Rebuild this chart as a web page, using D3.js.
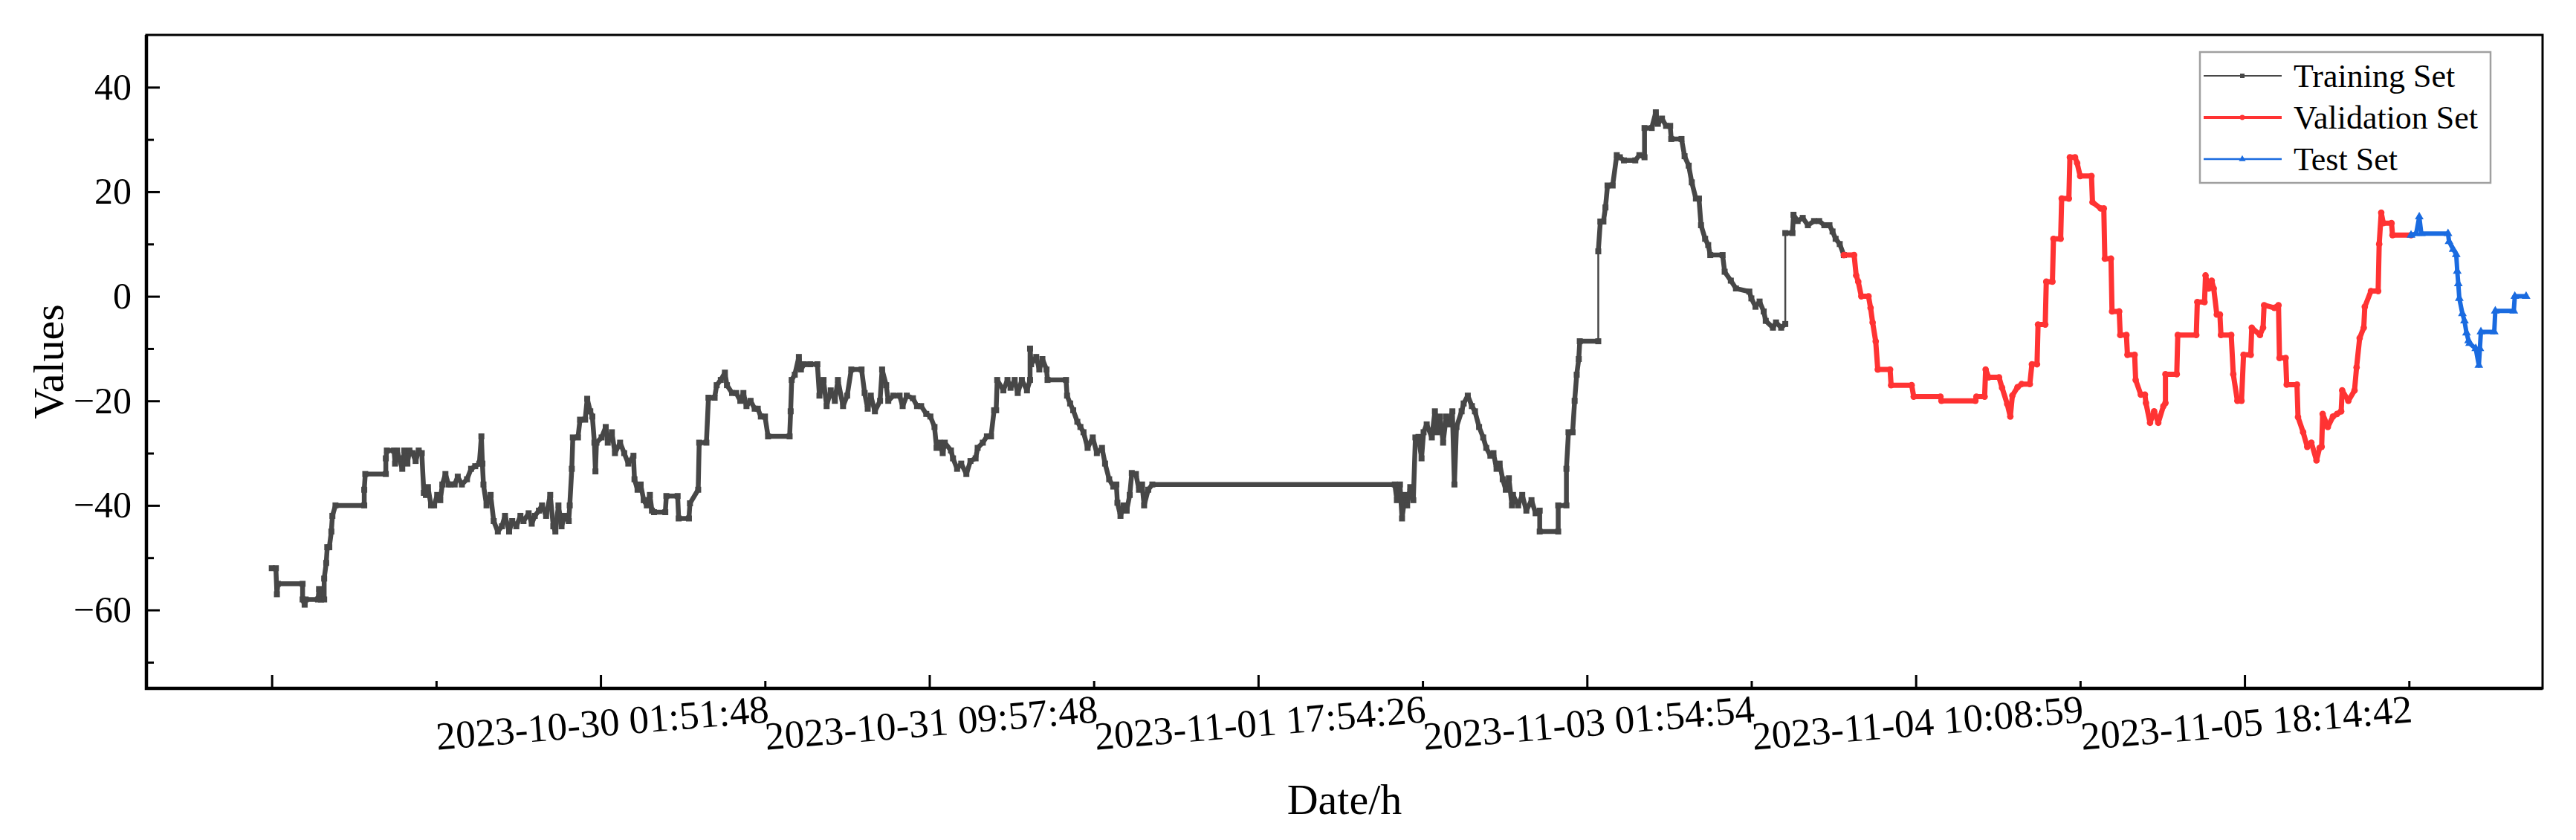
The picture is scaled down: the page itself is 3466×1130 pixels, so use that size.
<!DOCTYPE html>
<html>
<head>
<meta charset="utf-8">
<script src="https://cdn.jsdelivr.net/npm/d3@7"></script>
<style>
  body { margin: 0; background: #fff; }
  svg { display: block; }
  text { font-family: "Liberation Serif", "Times New Roman", serif; fill: #000; }
</style>
</head>
<body>
<script>
var width = 3466
var height = 1130
var L = 197, R = 3421, T = 47, B = 926

// x in hours from the first sample, y = value
var trainSet = [
  [0,-52],[0.4,-52],[0.5,-57],[0.6,-55],[3.0,-55],[3.0,-58],[3.2,-59],[3.3,-58],[4.5,-58],[4.6,-56],[4.8,-58],[5.1,-58],
  [5.1,-54],[5.3,-51],[5.4,-48],[5.6,-48],[5.8,-45],[5.9,-42],[6.2,-40],[9.0,-40],
  [9.0,-37],[9.1,-34],[11.1,-34],
  [11.1,-31],[11.2,-29.5],[11.9,-29.5],[12.0,-32],[12.2,-29.5],[12.4,-31],[12.7,-33],[12.9,-29.5],[13.2,-32],[13.4,-29.5],[13.7,-30],[14.0,-31.5],[14.3,-29.5],[14.6,-30],
  [14.8,-37.6],[15.0,-38],[15.2,-36.5],[15.5,-40],[15.8,-40],[16.1,-38],[16.4,-39],[16.6,-36],[16.9,-34],[17.2,-36],[17.4,-36],
  [17.8,-36],[18.1,-34.5],[18.5,-36],[19.0,-35],[19.4,-33],[19.8,-32.5],[20.2,-32],[20.4,-26.8],[20.5,-32],
  [20.6,-36],[20.9,-40],[21.3,-38],[21.6,-43],[22.0,-45],[22.4,-44],[22.7,-42],[23.1,-45],[23.4,-43],[23.8,-44],[24.2,-42],[24.5,-43],
  [25.0,-41.5],[25.3,-43.5],[25.6,-42],[26.0,-41],[26.3,-40],[26.7,-42],[27.1,-38],[27.4,-44],[27.6,-45],[27.9,-40],[28.2,-44],[28.5,-42],[28.9,-43],
  [29.0,-40],[29.2,-33],[29.3,-27],[29.8,-27],[30.0,-23.6],[30.5,-23.6],[30.7,-19.6],[31.0,-22],
  [31.2,-23],[31.4,-28],[31.5,-33.5],[31.6,-28],[32.1,-27],[32.5,-25],[32.7,-28],[33.1,-26],[33.4,-30],[33.9,-28],[34.3,-30],[34.7,-32],[35.2,-30.5],
  [35.3,-35],[35.6,-37],[35.9,-36],[36.2,-39],[36.5,-40],[36.8,-38],[37.0,-41],
  [37.2,-41.3],[38.3,-41.3],[38.4,-38.2],[39.5,-38.2],[39.6,-42.5],[40.6,-42.5],
  [40.7,-39.6],[41.5,-37],[41.6,-28],[42.3,-28],[42.5,-19.4],[43.1,-19.4],[43.3,-17],[43.7,-16],[44.1,-14.6],[44.3,-17],[44.8,-18.5],[45.2,-18.5],[45.6,-20],[45.9,-18.5],[46.2,-21],[46.6,-20],[47.0,-21.5],[47.3,-21.5],[47.6,-23],[48.0,-23],
  [48.3,-26.8],[50.4,-26.8],
  [50.5,-22],[50.6,-16],[50.9,-15],[51.3,-11.6],[51.5,-14],[51.8,-13],[52.4,-13],[53.1,-13],
  [53.3,-19],[53.7,-16],[54.0,-21],[54.4,-18],[54.8,-20],[55.1,-16],[55.6,-21],[56.0,-19],[56.4,-14],[57.4,-14],[57.7,-18.5],[58.0,-21.5],[58.3,-19],[58.7,-22],[59.2,-20],[59.4,-14],[59.8,-17],[60.0,-20],[60.5,-19],[61.1,-19],[61.4,-21],[61.8,-19],[62.4,-19.5],[62.8,-21],[63.2,-21],[63.7,-22.5],[64.1,-23],
  [64.5,-25],[64.7,-29],[65.0,-28],[65.3,-30],[65.5,-28],[66.1,-29.5],
  [66.3,-31],[66.7,-33],[67.1,-32],[67.6,-34],[68.0,-31.5],[68.5,-31],
  [68.7,-29],[69.2,-28],[69.6,-26.8],[70.0,-26.8],[70.3,-21.8],[70.5,-21.8],[70.6,-16],
  [71.2,-18],[71.6,-16],[71.9,-17.5],[72.3,-16],[72.6,-18.5],[73.0,-16],[73.5,-18],[73.8,-16],
  [73.8,-10],[73.9,-13],[74.4,-11.6],[74.7,-14],[75.0,-12],[75.4,-14],[75.5,-16],[77.3,-16],
  [77.4,-19],[77.7,-20.5],[78.0,-21.8],[78.4,-24],[78.7,-25],
  [79.0,-26],[79.4,-29],[79.9,-27],[80.3,-30],[80.8,-29],
  [81.1,-32],[81.5,-35],[81.9,-36.4],[82.2,-36],
  [82.3,-39.5],[82.6,-42],[82.9,-40],[83.2,-41],[83.5,-38],[83.7,-33.8],[84.1,-34],[84.4,-37],[84.7,-36],[84.9,-40],[85.3,-37],[85.7,-36],
  [109.3,-36],
  [109.5,-39],[109.8,-36],[110.0,-42.5],[110.3,-38],[110.5,-40],[110.8,-36.5],[111.1,-39],
  [111.3,-27],[111.6,-26.9],[111.9,-31],[112.1,-26],[112.4,-24.5],[112.9,-27],[113.2,-22],[113.4,-26],[113.7,-23],[114.0,-28],[114.3,-23],[114.6,-24.5],[114.9,-22],[115.1,-36],[115.3,-25],
  [115.8,-22],[116.0,-20.5],[116.4,-19],[116.8,-21],[117.1,-22],[117.5,-25],
  [117.9,-27],[118.2,-29],[118.6,-30.5],[118.9,-30],[119.2,-33],[119.5,-32],
  [119.8,-35],[120.1,-37],[120.4,-34.8],[120.7,-40],
  [120.8,-38],[121.3,-40],[121.7,-38],[122.1,-41],[122.6,-39],[123.0,-41.5],[123.4,-41],
  [123.4,-45],[125.2,-45],[125.2,-40],[126.0,-40],
  [126.0,-33],[126.2,-26],[126.6,-26],[126.8,-20],[127.0,-15],[127.2,-12],[127.3,-8.6],[129.1,-8.6],
  [129.1,8.6],[129.3,14.3],[129.6,14.3],[129.8,17],[130.0,21.2],[130.5,21.2],[130.9,27],[131.2,26.6],[131.6,26],[132.7,26],[133.1,27],[133.6,26.6],
  [133.6,32.2],[134.3,32.2],[134.7,35.2],[134.9,33],[135.3,34],[135.7,32.6],[136.1,32.6],
  [136.2,30.1],[137.2,30.1],[137.5,26.8],[137.9,25],[138.2,21.8],[138.6,18.7],[138.9,18.7],
  [139.1,13.6],[139.5,11],[139.8,9.8],[140.0,7.9],[141.2,7.9],
  [141.4,4.7],[142.0,3],[142.5,1.5],[143.8,0.9],
  [144.0,-0.4],[144.4,-2],[144.8,-1],[145.2,-2.9],
  [145.4,-4.7],[146.1,-6],[146.4,-5],[146.9,-6],[147.3,-5.3],
  [147.3,12.1],[148.0,12.1],[148.1,15.6],[148.5,14.4],[149.0,15],[149.5,13.6],[150.1,14.4],[150.6,14.4],[151.1,13.6],[151.6,13.6],
  [151.9,12.4],[152.2,11],[152.6,10],[153.0,7.9]
]

var validationSet = [
  [153.0,7.9],[154.0,7.9],[154.2,4],[154.4,2.8],[154.7,0],[155.4,0],[155.6,-2.2],[155.8,-5],[156.1,-8.6],[156.3,-14],[157.5,-14],[157.6,-17],[159.6,-17],[159.8,-19.2],[162.4,-19.2],[162.5,-20],[165.8,-20],[165.9,-19.2],[166.7,-19.2],
  [166.8,-14],[167.1,-15.5],[168.1,-15.5],[168.4,-17.5],[168.9,-20.6],[169.2,-23],[169.4,-19],[169.9,-17.4],
  [170.3,-16.8],[171.1,-16.8],[171.3,-13],[171.8,-13],[171.9,-5.4],[172.6,-5.4],[172.7,2.8],[173.3,2.8],[173.4,11],[174.1,11],[174.2,18.7],[174.9,18.7],[175.0,26.6],[175.5,26.6],[175.7,25.5],[176.0,23],[177.1,23],[177.2,18],[178.0,16.8],[178.3,16.8],
  [178.4,7.2],[179.0,7.2],[179.1,-2.9],[179.8,-2.9],[179.9,-7.4],[180.5,-7.4],[180.6,-11.2],[181.3,-11.2],[181.4,-16],[181.9,-18.8],[182.3,-18.8],
  [182.4,-20.4],[182.8,-24.2],[183.2,-22],[183.6,-24.2],[184.1,-21],[184.3,-20.4],
  [184.3,-14.9],[185.4,-14.9],[185.5,-7.4],[187.3,-7.4],[187.4,-1.1],[188.1,-1.1],[188.2,4],[188.5,1.5],[188.8,3],[189.0,1.5],[189.3,-3.5],[189.6,-3.5],[189.7,-7.4],[190.7,-7.4],
  [190.9,-14.9],[191.3,-20],[191.7,-20],[191.9,-11.2],[192.6,-11.2],[192.7,-6],[193.5,-7.4],[193.8,-6],
  [193.9,-1.7],[194.9,-2.2],[195.3,-1.7],
  [195.4,-11.8],[196.0,-11.8],[196.1,-16.9],[197.1,-16.9],
  [197.2,-23.1],[197.7,-26],[198.1,-28.8],[198.5,-28],[199.0,-31.4],[199.3,-29],[199.5,-28.8],
  [199.6,-22.5],[200.1,-25],[200.6,-23],[201.0,-22.5],[201.4,-22],
  [201.5,-18],[202.1,-20],[202.7,-18],[202.9,-13.6],[203.2,-8],[203.6,-6],
  [203.7,-2],[204.3,1],[205.0,1],
  [205.1,10],[205.3,16],[205.5,14],[206.3,14],
  [206.4,11.7],[208.2,11.7]
]

var testSet = [
  [208.2,11.7],[208.7,12],[209.0,15.2],[209.2,12],[211.8,12],
  [211.9,10.5],[212.3,9],[212.6,8],
  [212.7,4.8],[212.8,2.4],[212.9,-0.4],[213.2,-3.3],[213.4,-4.7],[213.6,-7],[213.8,-8.5],
  [213.9,-9],[214.5,-10],[214.8,-13.2],[214.9,-10],
  [215.0,-6.8],[216.3,-6.8],
  [216.4,-2.8],[218.2,-2.8],
  [218.3,0],[219.4,0]
]

var xMajor = [0, 32, 64, 96, 128, 160, 192]
var xMinor = [16, 48, 80, 112, 144, 176, 208]
var xLabels = ["", "2023-10-30 01:51:48", "2023-10-31 09:57:48", "2023-11-01 17:54:26",
  "2023-11-03 01:54:54", "2023-11-04 10:08:59", "2023-11-05 18:14:42"]
var yMajor = [-60, -40, -20, 0, 20, 40]
var yMinor = [-70, -50, -30, -10, 10, 30]

var seriesNames = ["Training Set", "Validation Set", "Test Set"]
var seriesColors = ["#474747", "#ff3333", "#1a6be0"]

var svg = d3.select("body").append("svg")
  .attr("width", width)
  .attr("height", height)

var x = d3.scaleLinear().domain([-12.2, 221]).range([L, R])
var y = d3.scaleLinear().domain([-75, 50]).range([B, T])

// ticks (inward)
function styleAxis(g) {
  g.select(".domain").remove()
  g.selectAll(".tick line").attr("stroke", "#000").attr("stroke-width", 3)
}

svg.append("g").attr("transform", "translate(0," + B + ")")
  .call(d3.axisBottom(x).tickValues(xMajor).tickSize(-18).tickFormat(""))
  .call(styleAxis)
svg.append("g").attr("transform", "translate(0," + B + ")")
  .call(d3.axisBottom(x).tickValues(xMinor).tickSize(-10).tickFormat(""))
  .call(styleAxis)

var yAx = svg.append("g").attr("transform", "translate(" + L + ",0)")
  .call(d3.axisLeft(y).tickValues(yMajor).tickSize(-18).tickPadding(20).tickFormat(d3.format("d")))
  .call(styleAxis)
yAx.selectAll("text").attr("font-size", 50).style("font-family", '"Liberation Serif", serif')
svg.append("g").attr("transform", "translate(" + L + ",0)")
  .call(d3.axisLeft(y).tickValues(yMinor).tickSize(-10).tickFormat(""))
  .call(styleAxis)

// rotated x labels, centred on major ticks
svg.selectAll(".xlab")
  .data(xMajor.map(function (v, i) { return { v: v, t: xLabels[i] } }))
  .enter().append("text")
  .attr("class", "xlab")
  .attr("text-anchor", "middle")
  .attr("font-size", 53)
  .attr("transform", function (d) { return "translate(" + (x(d.v) + 4) + ",990) rotate(-4.8)" })
  .text(function (d) { return d.t })

// frame
svg.append("rect")
  .attr("x", L).attr("y", T)
  .attr("width", R - L).attr("height", B - T)
  .attr("fill", "none").attr("stroke", "#000").attr("stroke-width", 3)
svg.append("path")
  .attr("d", "M" + L + "," + T + "V" + B + "H" + R)
  .attr("fill", "none").attr("stroke", "#000").attr("stroke-width", 4.5)

// axis titles
svg.append("text")
  .attr("transform", "translate(85," + ((T + B) / 2) + ") rotate(-90)")
  .attr("text-anchor", "middle")
  .attr("font-size", 58)
  .text("Values")
svg.append("text")
  .attr("x", (L + R) / 2).attr("y", 1095)
  .attr("text-anchor", "middle")
  .attr("font-size", 58)
  .text("Date/h")

var line = d3.line()
  .x(function (d) { return x(d[0]) })
  .y(function (d) { return y(d[1]) })

function drawSeries(data, color, symbol, size, thick) {
  var g = svg.append("g")
  g.append("path").datum(data)
    .attr("d", line)
    .attr("fill", "none")
    .attr("stroke", color)
    .attr("stroke-width", 2.5)
    .attr("stroke-linejoin", "round")
  // the samples sit so close that every step reads as a thick band,
  // except the big vertical jumps, which stay a thin connector
  var segs = d3.pairs(data).filter(function (p) {
    return !(p[0][0] === p[1][0] && Math.abs(p[0][1] - p[1][1]) > 8)
  })
  g.selectAll(".seg").data(segs).enter().append("line")
    .attr("x1", function (d) { return x(d[0][0]) })
    .attr("x2", function (d) { return x(d[1][0]) })
    .attr("y1", function (d) { return y(d[0][1]) })
    .attr("y2", function (d) { return y(d[1][1]) })
    .attr("stroke", color)
    .attr("stroke-width", thick)
    .attr("stroke-linecap", "round")
  g.selectAll(".mk").data(data).enter().append("path")
    .attr("transform", function (d) { return "translate(" + x(d[0]) + "," + y(d[1]) + ")" })
    .attr("d", d3.symbol().type(symbol).size(size))
    .attr("fill", color)
}

drawSeries(trainSet, seriesColors[0], d3.symbolSquare, 64, 6.5)
drawSeries(validationSet, seriesColors[1], d3.symbolCircle, 60, 7)
drawSeries(testSet, seriesColors[2], d3.symbolTriangle, 60, 6)

// legend
var lg = svg.append("g")
lg.append("rect")
  .attr("x", 2960).attr("y", 70).attr("width", 391).attr("height", 176)
  .attr("fill", "#fff").attr("stroke", "#a0a0a0").attr("stroke-width", 2.5)
var symbols = [d3.symbolSquare, d3.symbolCircle, d3.symbolTriangle]
var widths = [2, 4, 2.5]
seriesNames.forEach(function (name, i) {
  var cy = 102 + i * 56
  lg.append("line")
    .attr("x1", 2965).attr("x2", 3070).attr("y1", cy).attr("y2", cy)
    .attr("stroke", seriesColors[i]).attr("stroke-width", widths[i])
  lg.append("path")
    .attr("transform", "translate(3017," + cy + ")")
    .attr("d", d3.symbol().type(symbols[i]).size(36))
    .attr("fill", seriesColors[i])
  lg.append("text")
    .attr("x", 3086).attr("y", cy + 15)
    .attr("font-size", 44)
    .text(name)
})
</script>
</body>
</html>
